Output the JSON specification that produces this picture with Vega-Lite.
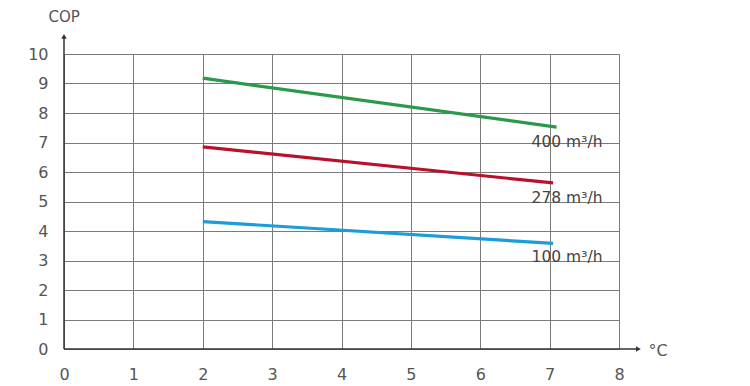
{
  "$schema": "https://vega.github.io/schema/vega-lite/v6.json",
  "width": 555,
  "height": 295,
  "autosize": "none",
  "padding": {"left": 64, "top": 54, "right": 131, "bottom": 37},
  "background": "white",
  "config": {"view": {"stroke": null}, "font": "DejaVu Sans"},
  "datasets": {
    "lines": [
      {"series": "400 m³/h", "x": 2, "y": 9.18},
      {"series": "400 m³/h", "x": 7.1, "y": 7.52},
      {"series": "278 m³/h", "x": 2, "y": 6.85},
      {"series": "278 m³/h", "x": 7.05, "y": 5.63},
      {"series": "100 m³/h", "x": 2, "y": 4.32},
      {"series": "100 m³/h", "x": 7.05, "y": 3.58}
    ],
    "labels": [
      {"label": "400 m³/h", "x": 6.74, "y": 7.02},
      {"label": "278 m³/h", "x": 6.74, "y": 5.12},
      {"label": "100 m³/h", "x": 6.74, "y": 3.13}
    ],
    "axislines": [
      {"name": "x", "x": 0, "y": 0, "x2": 8.25, "y2": 0},
      {"name": "y", "x": 0, "y": 0, "x2": 0, "y2": 10.55}
    ],
    "arrows": [
      {"name": "x", "x": 8.28, "y": 0},
      {"name": "y", "x": 0, "y": 10.6}
    ]
  },
  "encoding": {
    "x": {
      "field": "x", "type": "quantitative",
      "scale": {"domain": [0, 8], "nice": false},
      "axis": {
        "values": [0, 1, 2, 3, 4, 5, 6, 7, 8], "format": "d", "labelOverlap": false, "labelFlush": false,
        "grid": true, "gridColor": "#7a7a7a", "gridWidth": 1, "gridOpacity": 1,
        "domain": false, "ticks": false,
        "labelPadding": 17, "labelFontSize": 16, "labelColor": "#555", "labelFont": "DejaVu Sans",
        "title": "°C", "titleX": 584, "titleY": 1, "titleAlign": "left", "titleBaseline": "middle",
        "titleFontSize": 16, "titleFontWeight": "normal", "titleColor": "#555"
      }
    },
    "y": {
      "field": "y", "type": "quantitative",
      "scale": {"domain": [0, 10], "nice": false},
      "axis": {
        "values": [0, 1, 2, 3, 4, 5, 6, 7, 8, 9, 10], "format": "d", "labelOverlap": false, "labelFlush": false,
        "grid": true, "gridColor": "#7a7a7a", "gridWidth": 1, "gridOpacity": 1,
        "domain": false, "ticks": false,
        "labelPadding": 16, "labelFontSize": 16, "labelColor": "#555", "labelFont": "DejaVu Sans",
        "title": "COP", "titleAngle": 0, "titleX": -16, "titleY": -38, "titleAlign": "left", "titleBaseline": "middle",
        "titleFontSize": 15, "titleFontWeight": "normal", "titleColor": "#555"
      }
    }
  },
  "layer": [
    {
      "data": {"name": "axislines"},
      "mark": {"type": "rule", "color": "#333", "strokeWidth": 1.5, "clip": false},
      "encoding": {
        "x2": {"field": "x2"},
        "y2": {"field": "y2"}
      }
    },
    {
      "data": {"name": "arrows"},
      "transform": [{"filter": "datum.name === 'x'"}],
      "mark": {"type": "point", "shape": "triangle-right", "filled": true, "color": "#333", "size": 30, "opacity": 1, "clip": false},
      "encoding": {}
    },
    {
      "data": {"name": "arrows"},
      "transform": [{"filter": "datum.name === 'y'"}],
      "mark": {"type": "point", "shape": "triangle-up", "filled": true, "color": "#333", "size": 30, "opacity": 1, "clip": false},
      "encoding": {}
    },
    {
      "data": {"name": "lines"},
      "mark": {"type": "line", "strokeWidth": 3.2, "clip": false},
      "encoding": {
        "detail": {"field": "series"},
        "color": {
          "field": "series", "type": "nominal",
          "scale": {"domain": ["400 m³/h", "278 m³/h", "100 m³/h"], "range": ["#2a9a4a", "#b8122b", "#1c9cd8"]},
          "legend": null
        }
      }
    },
    {
      "data": {"name": "labels"},
      "mark": {"type": "text", "align": "left", "baseline": "middle", "fontSize": 15.5, "color": "#444", "clip": false},
      "encoding": {
        "text": {"field": "label"}
      }
    }
  ]
}
